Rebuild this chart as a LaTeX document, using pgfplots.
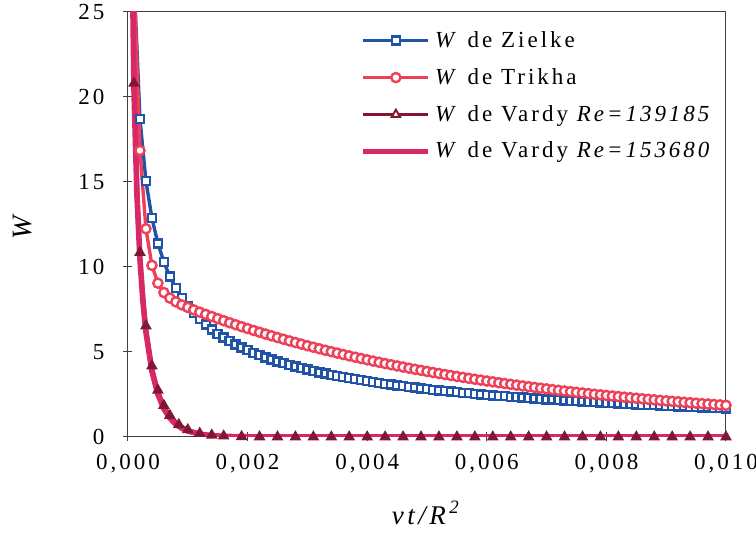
\documentclass[border=0pt]{standalone}
\usepackage{fontspec}
\setmainfont{Liberation Serif}[LetterSpace=13]
\usepackage{pgfplots}
\pgfplotsset{compat=1.18}
\definecolor{zblue}{RGB}{33,84,168}
\definecolor{tred}{RGB}{238,64,88}
\definecolor{vdark}{RGB}{128,24,52}
\definecolor{vpink}{RGB}{216,40,104}
\begin{document}
\begin{tikzpicture}
\begin{axis}[name=ax, scale only axis, width=299pt, height=212.5pt,
 xmin=0, xmax=0.01, ymin=0, ymax=25,
 xtick={0,0.002,0.004,0.006,0.008,0.01},
 xticklabels={{0,000},{0,002},{0,004},{0,006},{0,008},{0,010}},
 ytick={0,5,10,15,20,25},
 yticklabels={0,5,10,15,20,25},
 scaled x ticks=false,
 tick pos=left, tick align=center, major tick length=4.5pt,
 tick style={black!75, line width=0.5pt},
 axis line style={black!75, line width=0.5pt},
 tick label style={font=\fontsize{11.5}{13}\selectfont},
 yticklabel style={xshift=-6pt},
 xticklabel style={yshift=-3pt},
 xlabel={\textit{νt/R}\textsuperscript{\textit{2}}},
 xlabel style={at={(axis description cs:0.5,0)}, anchor=center, yshift=-38pt, font=\fontsize{13.5}{15}\selectfont},
 ylabel={\textit{W}},
 ylabel style={at={(axis description cs:-0.177,0.5)}, anchor=center, font=\fontsize{14}{15}\selectfont},
 legend style={at={(0.385,0.97)}, anchor=north west, draw=none, fill=none,
   font=\fontsize{11.5}{13}\selectfont, row sep=5pt, inner sep=1pt},
 legend cell align=left,
 legend image code/.code={\draw[mark repeat=2,mark phase=2] plot coordinates {(0cm,0cm)(0.57cm,0cm)(1.14cm,0cm)};},
]
\addplot[zblue, line width=1.7pt, mark=square*, mark size=2.0pt, mark options={fill=white, line width=1.2pt, solid}] coordinates {
(0.0001,26.970)(0.0002,18.712)(0.0003,15.056)(0.0004,12.876)(0.0005,11.390)(0.0006,10.293)(0.0007,9.441)(0.0008,8.754)(0.0009,8.186)(0.0010,7.705)
(0.0011,7.292)(0.0012,6.931)(0.0013,6.613)(0.0014,6.330)(0.0015,6.076)(0.0016,5.846)(0.0017,5.637)(0.0018,5.446)(0.0019,5.270)(0.0020,5.107)
(0.0021,4.956)(0.0022,4.816)(0.0023,4.685)(0.0024,4.562)(0.0025,4.447)(0.0026,4.339)(0.0027,4.236)(0.0028,4.140)(0.0029,4.048)(0.0030,3.961)
(0.0031,3.878)(0.0032,3.800)(0.0033,3.725)(0.0034,3.653)(0.0035,3.584)(0.0036,3.519)(0.0037,3.455)(0.0038,3.395)(0.0039,3.337)(0.0040,3.281)
(0.0041,3.227)(0.0042,3.175)(0.0043,3.125)(0.0044,3.077)(0.0045,3.030)(0.0046,2.985)(0.0047,2.942)(0.0048,2.900)(0.0049,2.859)(0.0050,2.819)
(0.0051,2.780)(0.0052,2.743)(0.0053,2.707)(0.0054,2.672)(0.0055,2.638)(0.0056,2.604)(0.0057,2.572)(0.0058,2.540)(0.0059,2.509)(0.0060,2.479)
(0.0061,2.450)(0.0062,2.422)(0.0063,2.394)(0.0064,2.367)(0.0065,2.340)(0.0066,2.315)(0.0067,2.289)(0.0068,2.265)(0.0069,2.240)(0.0070,2.217)
(0.0071,2.194)(0.0072,2.171)(0.0073,2.149)(0.0074,2.127)(0.0075,2.106)(0.0076,2.085)(0.0077,2.065)(0.0078,2.045)(0.0079,2.025)(0.0080,2.006)
(0.0081,1.987)(0.0082,1.969)(0.0083,1.951)(0.0084,1.933)(0.0085,1.915)(0.0086,1.898)(0.0087,1.881)(0.0088,1.865)(0.0089,1.848)(0.0090,1.832)
(0.0091,1.817)(0.0092,1.801)(0.0093,1.786)(0.0094,1.771)(0.0095,1.756)(0.0096,1.742)(0.0097,1.728)(0.0098,1.714)(0.0099,1.700)(0.0100,1.686)
};
\addlegendentry{\textit{W} de Zielke}
\addplot[tred, line width=1.7pt, mark=*, mark size=2.3pt, mark options={fill=white, line width=1.2pt, solid}] coordinates {
(0.0001,26.910)(0.0002,16.853)(0.0003,12.249)(0.0004,10.097)(0.0005,9.049)(0.0006,8.497)(0.0007,8.172)(0.0008,7.948)(0.0009,7.772)(0.0010,7.619)
(0.0011,7.478)(0.0012,7.343)(0.0013,7.213)(0.0014,7.086)(0.0015,6.962)(0.0016,6.841)(0.0017,6.721)(0.0018,6.605)(0.0019,6.490)(0.0020,6.378)
(0.0021,6.268)(0.0022,6.160)(0.0023,6.055)(0.0024,5.951)(0.0025,5.849)(0.0026,5.749)(0.0027,5.652)(0.0028,5.556)(0.0029,5.462)(0.0030,5.369)
(0.0031,5.279)(0.0032,5.190)(0.0033,5.103)(0.0034,5.018)(0.0035,4.934)(0.0036,4.852)(0.0037,4.772)(0.0038,4.693)(0.0039,4.615)(0.0040,4.539)
(0.0041,4.465)(0.0042,4.392)(0.0043,4.320)(0.0044,4.250)(0.0045,4.181)(0.0046,4.114)(0.0047,4.047)(0.0048,3.982)(0.0049,3.919)(0.0050,3.856)
(0.0051,3.795)(0.0052,3.735)(0.0053,3.676)(0.0054,3.618)(0.0055,3.561)(0.0056,3.506)(0.0057,3.451)(0.0058,3.397)(0.0059,3.345)(0.0060,3.293)
(0.0061,3.243)(0.0062,3.193)(0.0063,3.144)(0.0064,3.097)(0.0065,3.050)(0.0066,3.004)(0.0067,2.959)(0.0068,2.915)(0.0069,2.871)(0.0070,2.829)
(0.0071,2.787)(0.0072,2.746)(0.0073,2.706)(0.0074,2.667)(0.0075,2.628)(0.0076,2.590)(0.0077,2.553)(0.0078,2.516)(0.0079,2.480)(0.0080,2.445)
(0.0081,2.411)(0.0082,2.377)(0.0083,2.343)(0.0084,2.311)(0.0085,2.279)(0.0086,2.247)(0.0087,2.217)(0.0088,2.186)(0.0089,2.157)(0.0090,2.128)
(0.0091,2.099)(0.0092,2.071)(0.0093,2.043)(0.0094,2.016)(0.0095,1.990)(0.0096,1.964)(0.0097,1.938)(0.0098,1.913)(0.0099,1.888)(0.0100,1.864)
};
\addlegendentry{\textit{W} de Trikha}
\addplot[vdark, line width=1.7pt, mark=triangle*, mark size=2.4pt, mark options={fill=vdark, line width=1.0pt, solid}, forget plot] coordinates {
(0.0001,20.806)(0.0002,10.852)(0.0003,6.535)(0.0004,4.174)(0.0005,2.754)(0.0006,1.854)(0.0007,1.266)(0.00085,0.728)(0.0010,0.425)
(0.0012,0.211)(0.0014,0.106)(0.0016,0.054)(0.0019,0.020)(0.0022,0.007)(0.0025,0.003)(0.0028,0.001)(0.0031,0)(0.0034,0)(0.0037,0)
(0.0040,0)(0.0043,0)(0.0046,0)(0.0049,0)(0.0052,0)(0.0055,0)(0.0058,0)(0.0061,0)(0.0064,0)(0.0067,0)(0.0070,0)(0.0073,0)(0.0076,0)
(0.0079,0)(0.0082,0)(0.0085,0)(0.0088,0)(0.0091,0)(0.0094,0)(0.0097,0)(0.0100,0)
};
\addlegendimage{vdark, line width=1.7pt, mark=triangle*, mark size=2.4pt, mark options={fill=white, line width=1.0pt, solid}}
\addlegendentry{\textit{W} de Vardy \textit{Re=139185}}
\addplot[vpink, line width=2.8pt] coordinates {
(0.00005,33.94)(0.0001,20.421)(0.00015,14.186)(0.0002,10.453)(0.00025,7.955)(0.0003,6.178)(0.0004,3.873)(0.0005,2.508)(0.0006,1.657)
(0.0007,1.111)(0.0008,0.752)(0.0009,0.513)(0.0010,0.353)(0.0012,0.169)(0.0014,0.082)(0.0016,0.040)(0.0018,0.020)(0.0020,0.010)
(0.0025,0.002)(0.0030,0.0003)(0.0040,0)(0.0060,0)(0.0080,0)(0.0100,0)
};
\addlegendentry{\textit{W} de Vardy \textit{Re=153680}}
\end{axis}
\pgfresetboundingbox
\path[use as bounding box] ([shift={(-64pt,-51pt)}]ax.south west) rectangle ([shift={(15pt,6pt)}]ax.north east);
\end{tikzpicture}
\end{document}
